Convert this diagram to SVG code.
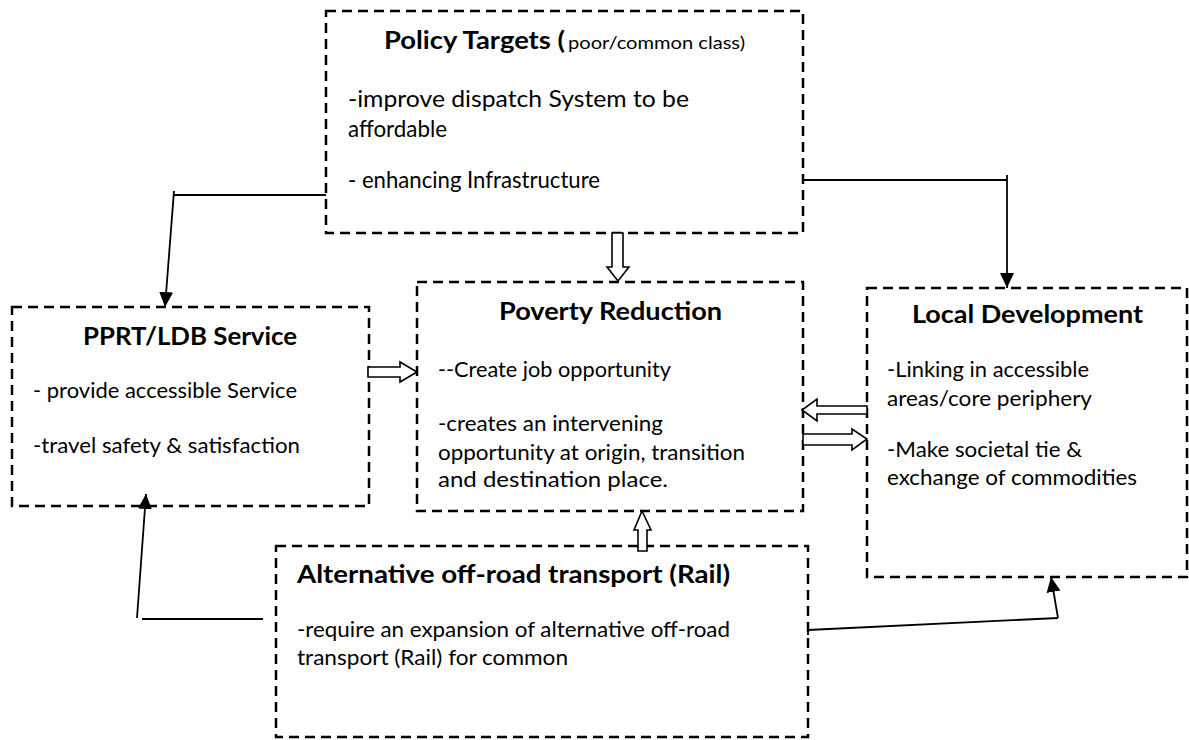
<svg xmlns="http://www.w3.org/2000/svg" width="1189" height="740" viewBox="0 0 1189 740">
<style>
.box{fill:#fff;stroke:#000;stroke-width:2.5;stroke-dasharray:10 6}
.t{font-family:Lato,"Open Sans","Liberation Sans",sans-serif;fill:#000}
.b{font-weight:bold;font-size:24px}
.r{font-size:21px}
.rl{font-size:23px}
.ln{fill:none;stroke:#000;stroke-width:1.8}
.blk{fill:#fff;stroke:#000;stroke-width:1.6;stroke-linejoin:miter}
</style>
<defs>
<marker id="ah" markerUnits="userSpaceOnUse" markerWidth="16" markerHeight="16" viewBox="0 0 16 16" refX="15" refY="8" orient="auto">
<path d="M0,1 L15,8 L0,15 Z" fill="#000"/>
</marker>
</defs>
<rect width="1189" height="740" fill="#fff"/>
<g id="policy">
<rect class="box" x="326" y="11" width="477" height="222"/>
<text class="t b" x="384" y="49" textLength="181" lengthAdjust="spacingAndGlyphs">Policy Targets (</text>
<text class="t" x="568" y="49" font-size="17" textLength="177" lengthAdjust="spacingAndGlyphs">poor/common class)</text>
<text class="t rl" x="348" y="107" textLength="341" lengthAdjust="spacingAndGlyphs">-improve dispatch System to be</text>
<text class="t rl" x="348" y="137" textLength="99" lengthAdjust="spacingAndGlyphs">affordable</text>
<text class="t rl" x="348" y="188" textLength="252" lengthAdjust="spacingAndGlyphs">- enhancing Infrastructure</text>
</g>
<g id="pprt">
<rect class="box" x="12" y="307" width="357" height="199"/>
<text class="t b" x="83" y="345" textLength="214" lengthAdjust="spacingAndGlyphs">PPRT/LDB Service</text>
<text class="t r" x="33" y="398" textLength="264" lengthAdjust="spacingAndGlyphs">- provide accessible Service</text>
<text class="t r" x="33" y="453" textLength="267" lengthAdjust="spacingAndGlyphs">-travel safety &amp; satisfaction</text>
</g>
<g id="poverty">
<rect class="box" x="417" y="282" width="386" height="229"/>
<text class="t b" x="499" y="320" textLength="223" lengthAdjust="spacingAndGlyphs">Poverty Reduction</text>
<text class="t r" x="438" y="377" textLength="233" lengthAdjust="spacingAndGlyphs">--Create job opportunity</text>
<text class="t r" x="438" y="431" textLength="225" lengthAdjust="spacingAndGlyphs">-creates an intervening</text>
<text class="t r" x="438" y="460" textLength="307" lengthAdjust="spacingAndGlyphs">opportunity at origin, transition</text>
<text class="t r" x="438" y="487" textLength="230" lengthAdjust="spacingAndGlyphs">and destination place.</text>
</g>
<g id="local">
<rect class="box" x="867" y="288" width="320" height="289"/>
<text class="t b" x="912" y="323" textLength="231" lengthAdjust="spacingAndGlyphs">Local Development</text>
<text class="t r" x="887" y="377" textLength="202" lengthAdjust="spacingAndGlyphs">-Linking in accessible</text>
<text class="t r" x="887" y="406" textLength="205" lengthAdjust="spacingAndGlyphs">areas/core periphery</text>
<text class="t r" x="887" y="457" textLength="195" lengthAdjust="spacingAndGlyphs">-Make societal tie &amp;</text>
<text class="t r" x="887" y="485" textLength="250" lengthAdjust="spacingAndGlyphs">exchange of commodities</text>
</g>
<g id="alt">
<rect class="box" x="276" y="546" width="532" height="191"/>
<text class="t b" x="297" y="583" textLength="433" lengthAdjust="spacingAndGlyphs">Alternative off-road transport (Rail)</text>
<text class="t r" x="297" y="637" textLength="433" lengthAdjust="spacingAndGlyphs">-require an expansion of alternative off-road</text>
<text class="t r" x="297" y="665" textLength="271" lengthAdjust="spacingAndGlyphs">transport (Rail) for common</text>
</g>
<g id="connectors">
<line class="ln" x1="326" y1="195" x2="174" y2="195"/>
<line class="ln" x1="174" y1="191" x2="165" y2="307" marker-end="url(#ah)"/>
<line class="ln" x1="803" y1="180" x2="1007" y2="180"/>
<line class="ln" x1="803" y1="176" x2="803" y2="184"/>
<line class="ln" x1="1007" y1="175" x2="1007" y2="288" marker-end="url(#ah)"/>
<line class="ln" x1="263" y1="619" x2="142" y2="619"/>
<line class="ln" x1="137" y1="618" x2="146" y2="494" marker-end="url(#ah)"/>
<line class="ln" x1="808" y1="630" x2="1058" y2="618"/>
<line class="ln" x1="808" y1="625" x2="808" y2="635"/>
<line class="ln" x1="1058" y1="618" x2="1051" y2="577" marker-end="url(#ah)"/>
<polygon class="blk" points="612,233 623,233 623,267 629,267 618,281 607,267 612,267"/>
<polygon class="blk" points="368,367 400,367 400,362 417,372 400,382 400,377 368,377"/>
<polygon class="blk" points="867,406 817,406 817,399 802,410 817,421 817,414 867,414"/>
<polygon class="blk" points="803,434 852,434 852,429 867,439 852,450 852,445 803,445"/>
<polygon class="blk" points="642,511 651,530 647,530 647,551 638,551 638,530 634,530"/>
</g>
</svg>
